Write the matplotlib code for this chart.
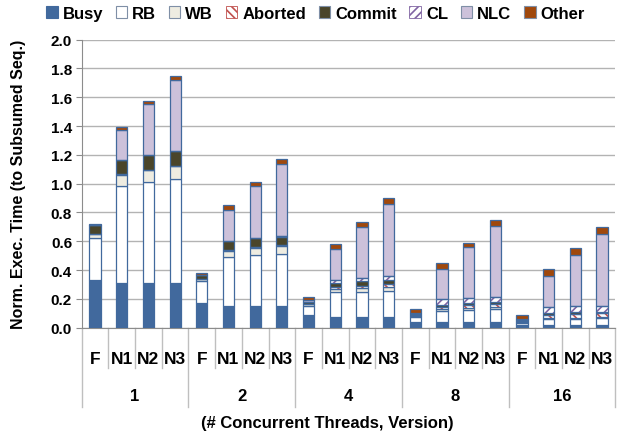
import numpy as np
import matplotlib

matplotlib.use("Agg")
import matplotlib.pyplot as plt
from matplotlib.patches import Patch
import matplotlib.transforms as mtransforms

plt.rcParams["font.family"] = ["Liberation Sans", "DejaVu Sans"]
plt.rcParams["font.weight"] = "bold"
plt.rcParams["hatch.linewidth"] = 1.2

# === Data ===

groups = ["1", "2", "4", "8", "16"]
versions = ["F", "N1", "N2", "N3"]

busy = [0.328, 0.311, 0.311, 0.311,
        0.172, 0.153, 0.153, 0.153,
        0.086, 0.077, 0.077, 0.077,
        0.040, 0.038, 0.040, 0.040,
        0.019, 0.020, 0.020, 0.020]
rb = [0.295, 0.676, 0.700, 0.720,
      0.151, 0.340, 0.354, 0.361,
      0.067, 0.170, 0.174, 0.179,
      0.037, 0.080, 0.084, 0.088,
      0.014, 0.040, 0.042, 0.044]
wb = [0.025, 0.075, 0.083, 0.091,
      0.014, 0.039, 0.046, 0.051,
      0.008, 0.023, 0.023, 0.025,
      0.005, 0.012, 0.012, 0.016,
      0.005, 0.006, 0.006, 0.007]
aborted = [0.003, 0.004, 0.004, 0.004,
           0.003, 0.006, 0.006, 0.006,
           0.004, 0.011, 0.016, 0.021,
           0.005, 0.016, 0.020, 0.021,
           0.006, 0.022, 0.028, 0.029]
commit = [0.062, 0.100, 0.098, 0.103,
          0.025, 0.064, 0.061, 0.062,
          0.012, 0.030, 0.033, 0.030,
          0.008, 0.014, 0.014, 0.016,
          0.006, 0.012, 0.012, 0.012]
cl = [0.000, 0.000, 0.000, 0.000,
      0.000, 0.003, 0.005, 0.006,
      0.004, 0.021, 0.021, 0.026,
      0.003, 0.040, 0.037, 0.031,
      0.004, 0.042, 0.041, 0.041]
nlc = [0.003, 0.209, 0.354, 0.492,
       0.002, 0.215, 0.358, 0.500,
       0.012, 0.214, 0.356, 0.502,
       0.002, 0.209, 0.350, 0.492,
       0.007, 0.214, 0.353, 0.498]
other = [0.004, 0.019, 0.021, 0.024,
         0.011, 0.033, 0.032, 0.030,
         0.019, 0.032, 0.032, 0.039,
         0.028, 0.037, 0.033, 0.046,
         0.027, 0.051, 0.049, 0.049]

# === Styles ===

EDGE = "#41699D"
series = [
    ("Busy", busy, dict(fc="#41699D")),
    ("RB", rb, dict(fc="white")),
    ("WB", wb, dict(fc="#EEECE1")),
    ("Aborted", aborted, dict(fc="white", hatch="\\\\\\\\", hc="#C0504D")),
    ("Commit", commit, dict(fc="#4A452A")),
    ("CL", cl, dict(fc="white", hatch="////", hc="#8064A2")),
    ("NLC", nlc, dict(fc="#CCC1DA")),
    ("Other", other, dict(fc="#A0480C")),
]

n = len(busy)
x = np.arange(n)
width = 0.42

fig = plt.figure(figsize=(6.21, 4.39), dpi=100)
ax = fig.add_axes([0.1316, 0.2513, 0.8594, 0.656])

bottom = np.zeros(n)
handles = []
for name, vals, st in series:
    vals = np.array(vals)
    if "hatch" in st:
        ax.bar(x, vals, width, bottom=bottom, color=st["fc"], edgecolor=st["hc"],
               hatch=st["hatch"], linewidth=0, zorder=3)
        ax.bar(x, vals, width, bottom=bottom, fill=False, edgecolor=EDGE,
               linewidth=0.9, zorder=4)
        handles.append(Patch(facecolor="white", edgecolor=st["hc"], hatch=st["hatch"],
                             linewidth=0.6, label=name))
    else:
        ax.bar(x, vals, width, bottom=bottom, color=st["fc"], edgecolor=EDGE,
               linewidth=0.9, zorder=3)
        handles.append(Patch(facecolor=st["fc"], edgecolor="#7F8FA6" if st["fc"] != "#41699D" else EDGE,
                             linewidth=0.8, label=name))
    bottom += vals

# axes look (Excel style)
ax.set_xlim(-0.5, n - 0.5)
ax.set_ylim(0, 2.0)
ax.set_yticks(np.arange(0, 2.01, 0.2))
ax.set_yticklabels([f"{v:.1f}" for v in np.arange(0, 2.01, 0.2)], fontsize=11, fontweight="bold")
ax.yaxis.grid(True, color="#B3B3B3", linewidth=1.0, zorder=0)
ax.set_axisbelow(True)
for s in ["top", "right"]:
    ax.spines[s].set_visible(False)
ax.spines["left"].set_color("#8C8C8C")
ax.spines["bottom"].set_color("#8C8C8C")
ax.tick_params(axis="y", length=4, color="#8C8C8C", pad=3)
ax.set_xticks([])

# multi-level category axis
trans = mtransforms.blended_transform_factory(ax.transData, ax.transAxes)
for i in range(n + 1):
    xb = i - 0.5
    depth = -0.275 if i % 4 == 0 else -0.14
    ax.plot([xb, xb], [0, depth], transform=trans, color="#BFBFBF", lw=1.0, clip_on=False)
for i in range(n):
    ax.text(i, -0.108, versions[i % 4], transform=trans, ha="center", va="center",
            fontsize=12.5, fontweight="bold")
for g, lab in enumerate(groups):
    ax.text(g * 4 + 1.5, -0.237, lab, transform=trans, ha="center", va="center",
            fontsize=12, fontweight="bold")

ax.text(0.46, -0.328, "(# Concurrent Threads, Version)", transform=ax.transAxes,
        ha="center", va="center", fontsize=12, fontweight="bold")
ax.set_ylabel("Norm. Exec. Time (to Subsumed Seq.)", fontsize=11.5, fontweight="bold")
ax.yaxis.set_label_coords(-0.104, 0.5)

fig.legend(handles=handles, loc="center", bbox_to_anchor=(0.508, 0.968), ncol=8,
           frameon=False, handlelength=0.7, handleheight=0.7,
           handletextpad=0.3, columnspacing=0.75, prop={"weight": "bold", "size": 12})

fig.savefig("out.png", dpi=100)
